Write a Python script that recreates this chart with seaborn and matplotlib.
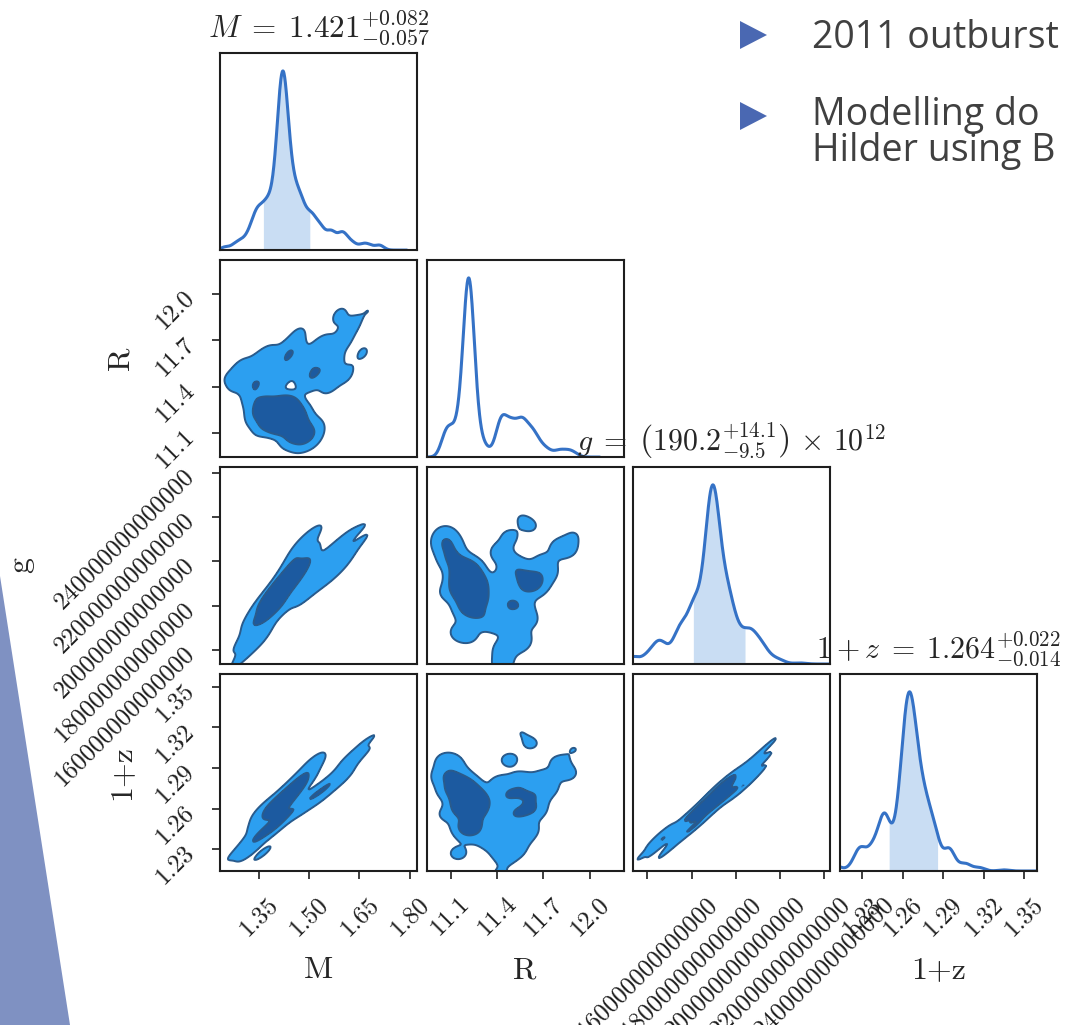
import numpy as np
import matplotlib
matplotlib.use("Agg")
import matplotlib.pyplot as plt
from matplotlib.patches import Polygon
from matplotlib.colors import ListedColormap
import seaborn as sns

# ---- weighted posterior samples ----
# mass [Msun], radius [km], surface gravity [1e12 cm/s^2], redshift factor 1+z, sample weight
mass = [1.33, 1.34, 1.35, 1.36, 1.37, 1.38, 1.39, 1.40, 1.41, 1.415, 1.42, 1.425, 1.43, 1.44, 1.45, 1.46,
        1.47, 1.48, 1.49, 1.51, 1.52, 1.44, 1.36,
        1.25, 1.28, 1.30, 1.32, 1.34, 1.35, 1.37, 1.38, 1.40, 1.42, 1.44, 1.43,
        1.46, 1.48, 1.47,
        1.50, 1.51, 1.53, 1.54, 1.56, 1.57, 1.59, 1.60, 1.61, 1.63, 1.66, 1.68, 1.71, 1.71, 1.38]
radius = [11.33, 11.22, 11.27, 11.15, 11.30, 11.20, 11.26, 11.22, 11.24, 11.21, 11.22, 11.23, 11.20, 11.21, 11.17, 11.10,
          11.20, 11.06, 11.14, 11.07, 11.12, 11.08, 11.24,
          11.46, 11.42, 11.52, 11.44, 11.40, 11.55, 11.46, 11.60, 11.42, 11.56, 11.64, 11.50,
          11.62, 11.50, 11.74,
          11.44, 11.58, 11.50, 11.66, 11.42, 11.56, 11.86, 11.70, 11.48, 11.80, 11.62, 11.90, 11.55, 11.50, 11.82]
gravity_e12 = [175, 167, 175, 168, 182, 178, 185, 181, 188, 187, 189, 191, 190, 196, 193, 202,
               196, 208, 199, 212, 207, 186, 182,
               154, 153, 164, 160, 172, 165, 176, 174, 183, 180, 189, 180,
               191, 183, 195,
               191, 189, 198, 192, 204, 195, 206, 199, 211, 206, 216, 212, 220, 229, 164]
one_plus_z = [1.238, 1.242, 1.250, 1.227, 1.258, 1.247, 1.264, 1.247, 1.265, 1.261, 1.264, 1.265, 1.269, 1.270, 1.277, 1.274,
              1.276, 1.284, 1.284, 1.295, 1.293, 1.256, 1.260,
              1.222, 1.211, 1.230, 1.228, 1.235, 1.239, 1.244, 1.245, 1.248, 1.256, 1.260, 1.254,
              1.260, 1.259, 1.275,
              1.267, 1.270, 1.272, 1.270, 1.278, 1.280, 1.286, 1.282, 1.296, 1.294, 1.308, 1.304, 1.317, 1.335, 1.229]
weights = [0.7, 0.6, 0.8, 0.6, 0.8, 0.9, 1.1, 2.0, 2.5, 3.0, 4.0, 3.5, 3.0, 2.2, 1.8, 1.4,
           1.3, 1.2, 1.0, 0.7, 0.5, 0.6, 0.5,
           0.3, 0.5, 0.7, 0.8, 0.8, 0.8, 0.8, 0.8, 0.7, 0.8, 0.8, 0.6,
           0.8, 0.6, 0.5,
           1.0, 1.0, 1.0, 1.0, 0.8, 1.0, 0.6, 0.8, 0.6, 0.6, 0.5, 0.4, 0.35, 0.12, 0.2]

# ---- summary statistics: median, upper and lower errors ----
m_stats = (1.421, 0.082, 0.057)
g_stats = (190.2, 14.1, 9.5)
z_stats = (1.264, 0.022, 0.014)

# ---- axes ----
labels = ["M", "R", "g", "1+z"]
m_ticks = [1.35, 1.50, 1.65, 1.80]
m_ticklabels = ["1.35", "1.50", "1.65", "1.80"]
r_ticks = [11.1, 11.4, 11.7, 12.0]
r_ticklabels = ["11.1", "11.4", "11.7", "12.0"]
g_ticks = [1.6e14, 1.8e14, 2.0e14, 2.2e14, 2.4e14]
g_ticklabels = ["160000000000000", "180000000000000", "200000000000000",
                "220000000000000", "240000000000000"]
z_ticks = [1.23, 1.26, 1.29, 1.32, 1.35]
z_ticklabels = ["1.23", "1.26", "1.29", "1.32", "1.35"]
limits = [(1.235, 1.821), (10.945, 12.22), (1.537e14, 2.427e14), (1.2138, 1.3596)]

bullet_lines = ["2011 outburst", "Modelling do", "Hilder using B"]

LINE = "#3572c6"
SHADE = "#c9ddf3"
LIGHT = "#2c9ff0"
DARK = "#1c5aa0"
EDGE = "#2a5b8c"
LEVELS = [0.08, 0.45, 1.0]
FILL_CMAP = ListedColormap([LIGHT, DARK])
BW_1D = [0.33, 0.33, 0.45, 0.45]     # smoothing of each marginal
BW_RADIUS = 0.5                      # pairs involving the radius
BW_CORRELATED = 0.65                 # the tightly correlated M / g / 1+z pairs

sns.set_style("white")
plt.rcParams.update({
    "font.family": ["cmr10"],
    "mathtext.fontset": "cm",
    "axes.unicode_minus": False,
    "axes.formatter.use_mathtext": True,
    "axes.edgecolor": "#1e1e1e",
    "axes.linewidth": 1.5,
    "xtick.direction": "out",
    "ytick.direction": "out",
    "xtick.major.size": 6,
    "ytick.major.size": 6,
    "xtick.major.width": 1.2,
    "ytick.major.width": 1.2,
    "xtick.major.pad": 9.5,
    "ytick.major.pad": 15,
    "xtick.color": "#1e1e1e",
    "ytick.color": "#1e1e1e",
    "xtick.bottom": True,
    "ytick.left": True,
})

W, H = 1071, 1025
fig = plt.figure(figsize=(W / 100, H / 100), dpi=100)
fig.patch.set_facecolor("white")
axes = fig.subplots(4, 4, gridspec_kw=dict(left=220 / W, right=1037 / W, top=1 - 53 / H,
                                           bottom=1 - 871 / H, wspace=0.05, hspace=0.05))

data = [np.array(mass), np.array(radius), np.array(gravity_e12) * 1e12, np.array(one_plus_z)]
w = np.array(weights)
ticks = [m_ticks, r_ticks, g_ticks, z_ticks]
ticklabels = [m_ticklabels, r_ticklabels, g_ticklabels, z_ticklabels]
bands = [(m_stats[0] - m_stats[2], m_stats[0] + m_stats[1]), None,
         ((g_stats[0] - g_stats[2]) * 1e12, (g_stats[0] + g_stats[1]) * 1e12),
         (z_stats[0] - z_stats[2], z_stats[0] + z_stats[1])]

for i in range(4):
    for j in range(4):
        ax = axes[i, j]
        if j > i:
            ax.set_axis_off()
            continue
        if i == j:
            sns.kdeplot(x=data[i], weights=w, ax=ax, bw_adjust=BW_1D[i], color=LINE, lw=2.2,
                        cut=5, gridsize=600)
            xs, ys = ax.lines[-1].get_data()
            if bands[i] is not None:
                sel = (xs >= bands[i][0]) & (xs <= bands[i][1])
                ax.fill_between(xs[sel], ys[sel], color=SHADE, lw=0, zorder=0)
            ax.set_ylim(0, ys.max() * 1.1)
            ax.set_ylabel("")
            ax.set_yticks([])
        else:
            bw = BW_RADIUS if 1 in (i, j) else BW_CORRELATED
            sns.kdeplot(x=data[j], y=data[i], weights=w, ax=ax, fill=True, levels=LEVELS,
                        cmap=FILL_CMAP, bw_adjust=bw, gridsize=220, cut=5)
            sns.kdeplot(x=data[j], y=data[i], weights=w, ax=ax, fill=False, levels=LEVELS[:2],
                        colors=[EDGE], linewidths=1.4, bw_adjust=bw, gridsize=220, cut=5)
            ax.set_ylim(*limits[i])
            if j == 0:
                ax.set_yticks(ticks[i], ticklabels[i], fontsize=18)
                for lab in ax.get_yticklabels():
                    lab.set_rotation(45)
                    lab.set_rotation_mode("anchor")
                    lab.set_ha("right")
                    lab.set_va("center")
                ax.set_ylabel(labels[i], fontsize=23, labelpad=12)
            else:
                ax.set_yticks([])
                ax.set_ylabel("")
        ax.set_xlim(*limits[j])
        if i == 3:
            ax.set_xticks(ticks[j], ticklabels[j], fontsize=18, rotation=45)
            ax.set_xlabel(labels[j], fontsize=23, labelpad=12)
        else:
            ax.set_xticks([])
            ax.set_xlabel("")
        for s in ax.spines.values():
            s.set_visible(True)

axes[0, 0].set_title(r"$M \;=\; %.3f^{+%.3f}_{-%.3f}$" % m_stats, fontsize=22.5, pad=11)
axes[2, 2].set_title(r"$g \;=\; \left(%.1f^{+%.1f}_{-%.1f}\right) \,\times\, 10^{12}$" % g_stats,
                     fontsize=21.5, pad=11)
axes[3, 3].set_title(r"$1 + z \;=\; %.3f^{+%.3f}_{-%.3f}$" % z_stats, fontsize=21.5, pad=11)


def px(x, y):
    return (x / W, 1 - y / H)


# slide decoration: side wedge and bullet points
fig.patches.append(Polygon([px(0, 576), px(70, 1025), px(0, 1025)], closed=True,
                           transform=fig.transFigure, facecolor="#7f91c2", edgecolor="none", zorder=0))
for txt, base in zip(bullet_lines, [48, 125, 161]):
    fig.text(*px(812, base), txt, fontsize=27, family=["Open Sans", "DejaVu Sans"],
             color="#404040", va="baseline", ha="left")
for cy in [35, 116]:
    fig.patches.append(Polygon([px(740, cy - 14), px(740, cy + 14), px(767, cy)], closed=True,
                               transform=fig.transFigure, facecolor="#4a68b2", edgecolor="none"))

fig.savefig("out.png", dpi=100, facecolor="white")
